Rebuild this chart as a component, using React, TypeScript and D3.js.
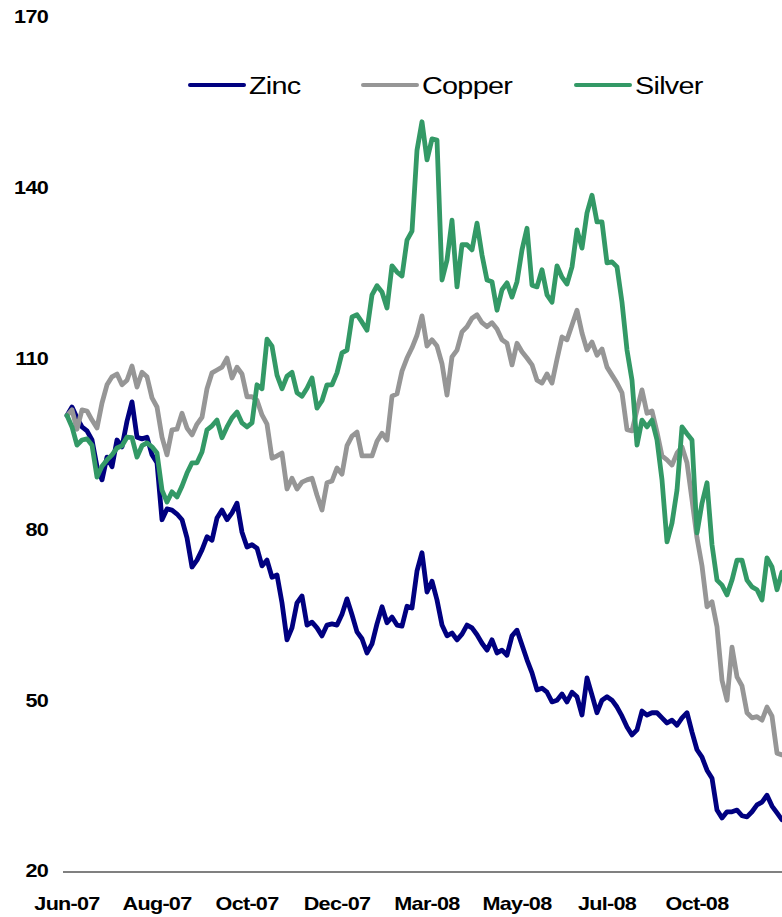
import React from "react";
import * as d3 from "d3";

// Price indices, rebased to 100 at the first observation
const tickLabels = ["Jun-07", "Aug-07", "Oct-07", "Dec-07", "Mar-08", "May-08", "Jul-08", "Oct-08"];
const yTicks = [20, 50, 80, 110, 140, 170];
const seriesNames = ["Zinc", "Copper", "Silver"];

const zinc = [
  100.0, 101.5, 99.6, 98.0, 97.3, 95.7, 91.0, 88.7, 92.7, 91.0,
  95.7, 94.5, 99.0, 102.4, 96.2, 95.9, 96.2, 93.1, 91.7, 81.7,
  83.6, 83.4, 82.7, 81.7, 78.5, 73.4, 74.6, 76.4, 78.7, 78.1,
  82.0, 83.4, 81.7, 82.9, 84.6, 79.5, 76.9, 77.3, 76.7, 73.6,
  74.6, 71.6, 72.0, 67.1, 60.6, 62.7, 67.1, 68.3, 63.2, 63.7,
  62.7, 61.3, 63.2, 63.4, 63.2, 65.1, 67.8, 65.0, 62.0, 60.8,
  58.3, 59.9, 63.4, 66.4, 63.6, 64.6, 63.2, 63.0, 66.5, 66.2,
  72.7, 75.9, 69.0, 70.9, 67.6, 63.2, 61.3, 61.8, 60.6, 61.6,
  63.2, 62.7, 61.5, 60.0, 58.8, 60.6, 58.3, 58.8, 57.9, 61.3,
  62.3, 59.7, 57.1, 54.8, 51.8, 52.1, 51.4, 49.7, 50.0, 51.1,
  49.7, 51.4, 50.6, 47.4, 53.9, 50.9, 47.8, 50.0, 50.6, 50.0,
  48.8, 47.2, 45.3, 43.9, 44.8, 48.1, 47.4, 47.8, 47.8, 46.9,
  46.0, 46.5, 45.6, 46.9, 47.8, 44.4, 41.3, 40.0, 37.7, 36.3,
  30.7, 29.3, 30.4, 30.4, 30.7, 29.7, 29.5, 30.4, 31.6, 32.1,
  33.3, 31.4, 30.2, 29.0,
];

const copper = [
  100.0, 101.0, 97.6, 101.0, 100.8, 99.2, 97.8, 102.2, 105.4, 106.8,
  107.3, 105.4, 106.2, 108.7, 105.0, 107.6, 106.8, 103.1, 101.5, 96.2,
  93.1, 97.5, 97.6, 100.4, 97.8, 96.6, 98.5, 99.7, 104.7, 107.5,
  108.0, 108.5, 110.1, 106.6, 108.5, 107.3, 103.3, 103.3, 102.7, 100.1,
  98.5, 92.5, 92.9, 93.4, 87.1, 89.0, 87.1, 88.3, 88.7, 89.0,
  86.0, 83.4, 88.2, 88.5, 90.8, 89.7, 94.7, 96.4, 97.1, 92.9,
  92.9, 92.9, 95.5, 96.9, 95.7, 103.4, 103.8, 107.8, 110.1, 111.9,
  114.1, 117.5, 112.2, 113.3, 112.2, 109.1, 103.6, 110.3, 111.5, 114.7,
  115.6, 117.1, 117.7, 116.3, 115.6, 116.3, 115.2, 113.3, 112.7, 108.9,
  112.7, 111.2, 110.1, 108.9, 106.2, 105.7, 107.3, 105.7, 109.9, 113.8,
  113.3, 115.9, 118.5, 114.5, 111.5, 112.9, 110.6, 111.7, 108.5, 107.1,
  105.7, 104.0, 97.5, 97.3, 101.0, 104.5, 100.4, 100.8, 97.1, 92.9,
  92.2, 91.3, 93.4, 94.5, 91.7, 85.2, 78.5, 73.6, 66.4, 67.3,
  62.9, 53.5, 50.0, 59.3, 54.1, 52.5, 47.8, 46.9, 47.1, 46.5,
  48.8, 47.2, 40.7, 40.4,
];

const silver = [
  100.0, 98.0, 94.8, 95.7, 95.9, 94.8, 89.2, 91.1, 92.2, 93.1,
  94.3, 94.7, 96.2, 96.1, 92.7, 94.7, 95.2, 94.5, 93.4, 86.9,
  84.8, 86.6, 85.7, 87.6, 89.9, 91.7, 91.7, 93.6, 97.5, 98.2,
  99.2, 96.1, 98.0, 99.6, 100.6, 98.7, 98.0, 98.7, 105.4, 104.7,
  113.4, 112.2, 107.1, 104.7, 106.9, 107.6, 104.0, 103.4, 104.8, 106.6,
  101.3, 102.6, 105.4, 105.4, 107.5, 111.0, 111.5, 117.3, 117.7, 116.4,
  115.0, 121.2, 122.8, 121.7, 118.9, 126.3, 125.2, 124.5, 130.8, 132.4,
  146.6, 151.6, 144.9, 148.6, 148.4, 123.8, 127.3, 134.3, 122.6, 130.0,
  130.0, 129.1, 133.8, 128.2, 123.8, 123.5, 118.5, 122.1, 123.3, 120.8,
  123.5, 129.1, 132.9, 122.9, 122.6, 125.6, 121.2, 119.9, 126.3, 124.3,
  123.1, 126.1, 132.6, 129.4, 135.6, 138.7, 134.0, 134.0, 126.8, 127.0,
  126.1, 119.9, 111.5, 106.2, 94.8, 99.2, 98.0, 99.2, 95.7, 88.7,
  77.8, 81.1, 86.9, 98.0, 96.8, 95.7, 79.4, 84.6, 88.2, 77.3,
  71.1, 70.2, 68.5, 71.1, 74.6, 74.6, 71.1, 69.9, 69.4, 67.6,
  75.0, 73.4, 69.4, 72.5,
];

const seriesValues = [zinc, copper, silver];
const seriesColors = ["#000080", "#969696", "#339966"];

const W = 782;
const H = 917;
const FONT = "'Liberation Sans', Arial, Helvetica, sans-serif";
const STRETCH = 1.2; // wide glyphs, tight tracking
const TRACKING = -0.6;
const POINTS_PER_LABEL = 18;
const legendX = [190, 363, 576];

export default function App() {
  const n = zinc.length;
  const x = d3.scaleLinear().domain([0, n - 1]).range([67, 782]);
  const y = d3.scaleLinear().domain([20, 170]).range([871, 17]);

  const line = d3
    .line<number>()
    .x((_, i) => x(i))
    .y((v) => y(v));

  return (
    <svg
      width={W}
      height={H}
      viewBox={`0 0 ${W} ${H}`}
      style={{ position: "absolute", left: 0, top: 0, background: "#ffffff" }}
      fontFamily={FONT}
    >
      <rect x={0} y={0} width={W} height={H} fill="#ffffff" />

      {/* value axis labels */}
      {yTicks.map((t) => (
        <text
          key={t}
          transform={`translate(48,${y(t)}) scale(${STRETCH},1)`}
          textAnchor="end"
          dy="0.36em"
          fontSize={18}
          fontWeight="bold"
          letterSpacing={TRACKING}
          fill="#000000"
        >
          {t}
        </text>
      ))}

      {/* category axis */}
      <line x1={63} x2={W} y1={y(20) + 1} y2={y(20) + 1} stroke="#808080" strokeWidth={2} />
      {tickLabels.map((lab, k) => (
        <text
          key={lab + k}
          transform={`translate(${x(k * POINTS_PER_LABEL)},910) scale(${STRETCH},1)`}
          textAnchor="middle"
          fontSize={18}
          fontWeight="bold"
          letterSpacing={TRACKING}
          fill="#000000"
        >
          {lab}
        </text>
      ))}

      {/* series */}
      {seriesValues.map((vals, s) => (
        <path
          key={seriesNames[s]}
          d={line(vals) ?? ""}
          fill="none"
          stroke={seriesColors[s]}
          strokeWidth={4.8}
          strokeLinejoin="round"
          strokeLinecap="round"
        />
      ))}

      {/* legend */}
      {seriesNames.map((name, s) => (
        <g key={name} transform={`translate(${legendX[s]},85)`}>
          <line x1={0} x2={54} y1={0} y2={0} stroke={seriesColors[s]} strokeWidth={4} strokeLinecap="round" />
          <text
            transform={`translate(59,8.5) scale(${STRETCH},1)`}
            fontSize={24}
            letterSpacing={TRACKING}
            fill="#000000"
          >
            {name}
          </text>
        </g>
      ))}
    </svg>
  );
}
